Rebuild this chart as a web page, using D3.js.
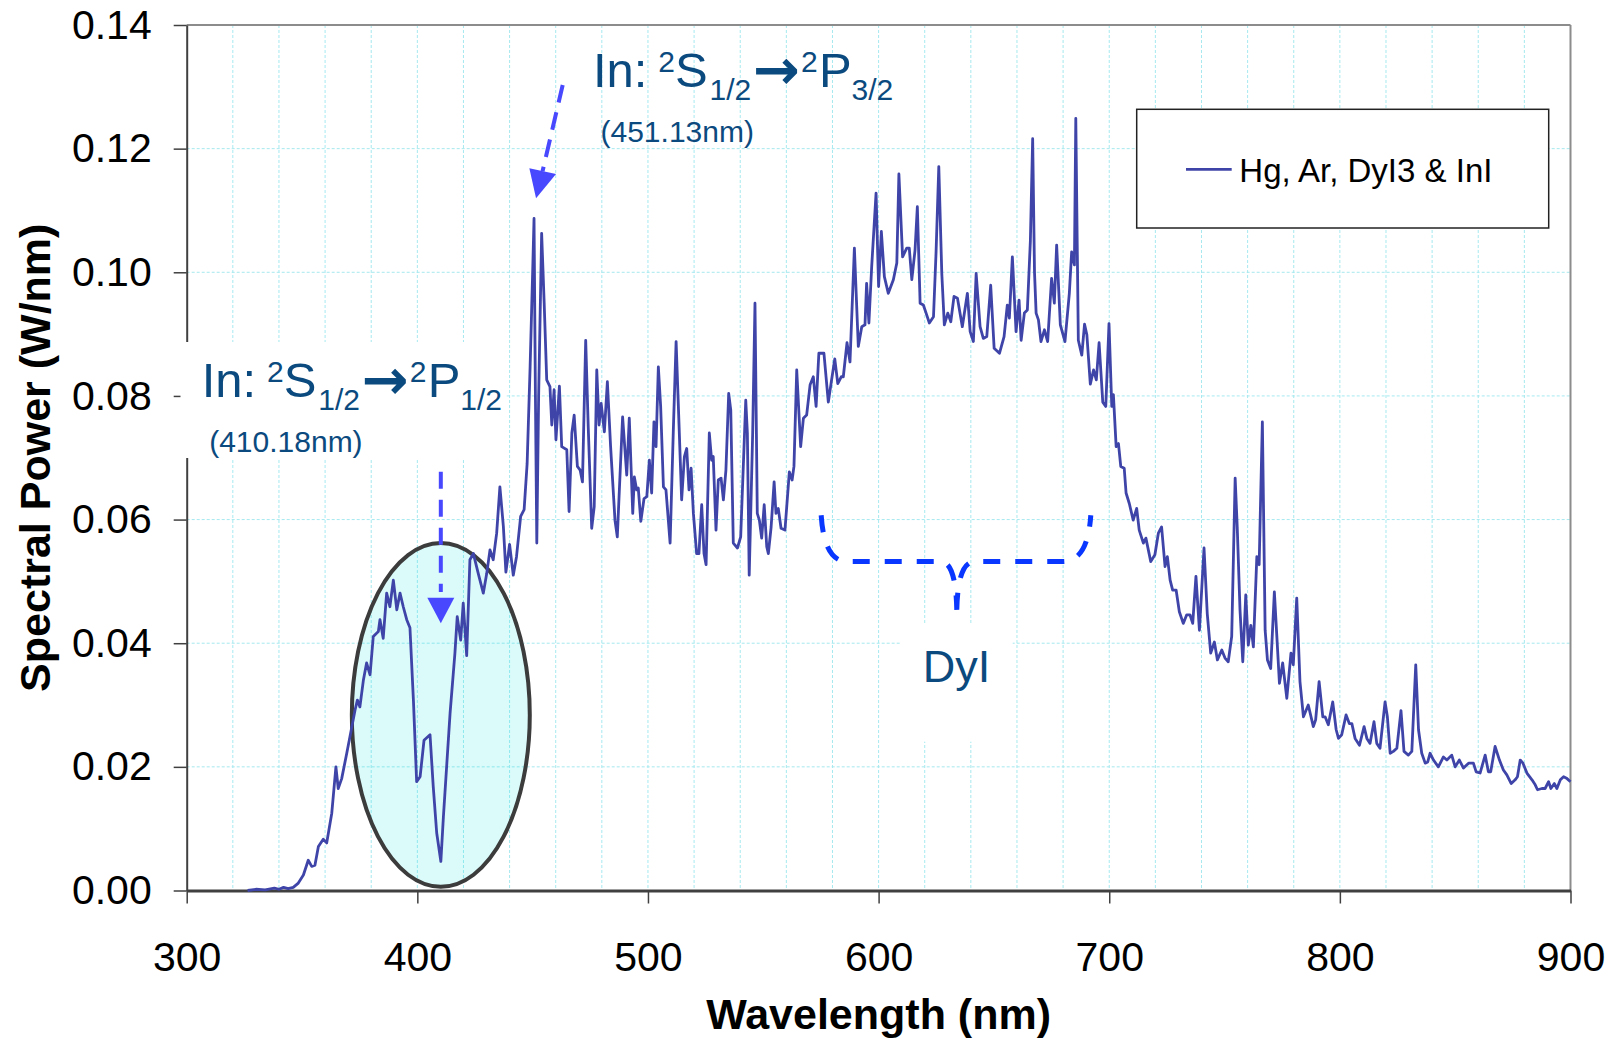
<!DOCTYPE html>
<html>
<head>
<meta charset="utf-8">
<script src="https://cdn.jsdelivr.net/npm/d3@7"></script>
<style>
  body { margin: 0; background: #fff; }
  svg { display: block; font-family: "Liberation Sans", Arial, sans-serif; }
</style>
</head>
<body>
<div class="chart__wrapper"></div>
<script>
// spectrum (nm, W/nm)
const wavelength = [
  326.4, 330, 334, 338, 340, 342, 344, 346.2, 348.4, 350.6, 352.7, 354.2, 355.6, 357.1, 359.2, 360.7,
  362.9, 364.7, 365.7, 367.2, 369.4, 370.8, 373.0, 374.0, 375.1, 376.6, 378.0, 379.5, 380.9, 383.1,
  383.8, 385.2, 386.7, 388.1, 389.6, 391.1, 392.5, 393.9, 395.4, 396.8, 398.3, 399.7, 401.2, 402.9,
  405.5, 406.9, 408.4, 410.2, 411.3, 414.2, 416.3, 417.3, 418.8, 419.9, 421.4, 422.8, 424.3, 426.4,
  428.6, 430.1, 431.5, 432.9, 434.4, 435.8, 437.3, 438.4, 440.0, 441.6, 443.0, 444.8, 446.3, 447.6,
  448.9, 450.0, 450.6, 451.2, 451.8, 452.6, 453.9, 455.0, 456.1, 457.5, 458.3, 459.3, 460.1, 461.6,
  462.6, 464.8, 465.8, 467.0, 468.0, 469.4, 470.6, 471.6, 473.0, 474.1, 475.6, 476.7, 477.8, 478.8,
  479.7, 481.1, 482.4, 483.8, 485.7, 486.7, 489.0, 490.8, 491.9, 493.4, 494.1, 495.1, 495.8, 496.9,
  498.3, 499.5, 500.6, 501.6, 502.6, 503.5, 504.5, 505.5, 506.7, 507.8, 509.6, 511.0, 512.2, 513.5,
  514.6, 515.8, 516.8, 517.8, 518.7, 519.7, 521.1, 522.1, 523.3, 524.3, 525.2, 526.6, 527.6, 528.3,
  529.5, 530.5, 531.7, 532.7, 533.8, 535.0, 535.9, 537.0, 538.8, 540.2, 542.4, 543.1, 543.9, 545.4,
  546.4, 547.4, 548.3, 549.3, 550.4, 551.5, 552.2, 553.4, 554.7, 555.5, 556.5, 557.7, 559.4, 561.3,
  562.5, 563.3, 564.5, 566.2, 567.4, 568.8, 570.3, 571.7, 572.9, 574.1, 575.3, 576.3, 578.2, 579.5,
  581.0, 582.3, 583.8, 584.7, 586.3, 587.6, 589.5, 591.2, 592.7, 594.1, 594.8, 595.8, 597.0, 598.9,
  600.0, 601.2, 602.5, 604.2, 606.4, 607.9, 608.8, 610.4, 612.2, 613.3, 614.4, 615.8, 616.8, 618.0,
  619.4, 620.6, 622.0, 623.8, 624.9, 626.1, 627.4, 628.5, 630.0, 631.3, 632.7, 634.2, 636.3, 638.5,
  639.7, 641.1, 642.3, 644.0, 645.4, 646.9, 648.6, 650.1, 652.4, 654.4, 655.8, 656.7, 658.0, 659.6,
  660.9, 661.8, 663.2, 664.5, 665.8, 666.8, 667.6, 668.3, 669.3, 670.4, 671.9, 673.3, 675.0, 676.2,
  677.2, 678.8, 680.8, 682.7, 683.7, 684.9, 685.5, 686.6, 688.1, 689.3, 690.3, 691.8, 693.2, 694.4,
  695.6, 697.2, 698.5, 699.9, 701.1, 701.8, 703.0, 704.0, 705.0, 706.5, 707.3, 708.7, 710.4, 711.9,
  713.0, 714.8, 715.9, 718.0, 719.8, 721.3, 722.7, 724.2, 725.2, 726.4, 727.5, 729.0, 730.4, 732.1,
  733.6, 735.0, 736.2, 737.6, 739.1, 741.1, 742.5, 744.0, 745.6, 746.9, 748.8, 750.2, 751.6, 753.1,
  754.6, 755.5, 756.7, 757.9, 759.2, 760.3, 761.4, 762.5, 764.0, 765.0, 766.4, 767.6, 768.6, 770.0,
  771.6, 772.6, 773.8, 775.2, 777.0, 778.8, 779.8, 781.3, 782.7, 784.2, 786.3, 788.5, 789.5, 791.0,
  792.6, 793.6, 795.0, 796.9, 798.4, 799.4, 800.8, 802.7, 804.1, 805.2, 806.6, 808.5, 810.5, 811.7,
  813.1, 814.8, 816.0, 817.4, 819.6, 820.6, 821.8, 823.2, 824.7, 826.5, 827.8, 829.7, 831.2, 832.9,
  834.1, 835.5, 837.0, 838.1, 839.1, 840.6, 842.7, 844.9, 846.4, 848.5, 850.0, 851.8, 853.6, 855.8,
  857.9, 859.1, 860.8, 863.0, 864.4, 865.4, 867.3, 869.2, 870.9, 872.4, 874.3, 876.0, 877.0, 878.2,
  879.4, 881.1, 883.3, 884.7, 885.7, 887.6, 889.0, 890.5, 891.5, 893.0, 894.1, 895.6, 897.0, 898.5,
  900.0,
];
const power = [
  0, 0.0002, 0.0001, 0.0004, 0.0002, 0.0005, 0.0003, 0.0005, 0.0012, 0.0025, 0.0049, 0.0039, 0.0041, 0.0071, 0.0083, 0.0077,
  0.0125, 0.0200, 0.0165, 0.0181, 0.0222, 0.0249, 0.0292, 0.0308, 0.0297, 0.0340, 0.0368, 0.0349, 0.0411, 0.0419,
  0.0438, 0.0408, 0.0481, 0.0459, 0.0502, 0.0454, 0.0481, 0.0459, 0.0438, 0.0425, 0.0308, 0.0176, 0.0184, 0.0243,
  0.0252, 0.0168, 0.0093, 0.0047, 0.0119, 0.0287, 0.0384, 0.0443, 0.0405, 0.0465, 0.0380, 0.0535, 0.0545, 0.0513,
  0.0481, 0.0513, 0.0551, 0.0535, 0.0578, 0.0653, 0.0589, 0.0515, 0.0560, 0.0510, 0.0540, 0.0605, 0.0616, 0.0690,
  0.0847, 0.1000, 0.1087, 0.0800, 0.0562, 0.0800, 0.1063, 0.0950, 0.0826, 0.0815, 0.0753, 0.0810, 0.0729, 0.0816,
  0.0718, 0.0713, 0.0613, 0.0740, 0.0769, 0.0686, 0.0680, 0.0661, 0.0890, 0.0750, 0.0586, 0.0621, 0.0842, 0.0753,
  0.0788, 0.0742, 0.0823, 0.0718, 0.0599, 0.0572, 0.0766, 0.0672, 0.0764, 0.0610, 0.0669, 0.0648, 0.0651, 0.0597,
  0.0634, 0.0637, 0.0696, 0.0643, 0.0758, 0.0718, 0.0847, 0.0783, 0.0653, 0.0648, 0.0562, 0.0745, 0.0888, 0.0750,
  0.0632, 0.0702, 0.0715, 0.0648, 0.0683, 0.0610, 0.0545, 0.0545, 0.0624, 0.0545, 0.0527, 0.0740, 0.0696, 0.0702,
  0.0583, 0.0664, 0.0667, 0.0632, 0.0680, 0.0804, 0.0777, 0.0562, 0.0554, 0.0572, 0.0793, 0.0740, 0.0510, 0.0740,
  0.0950, 0.0610, 0.0599, 0.0570, 0.0624, 0.0556, 0.0545, 0.0588, 0.0661, 0.0610, 0.0618, 0.0586, 0.0583, 0.0677,
  0.0664, 0.0686, 0.0842, 0.0718, 0.0764, 0.0769, 0.0818, 0.0831, 0.0783, 0.0869, 0.0869, 0.0869, 0.0790, 0.0823,
  0.0860, 0.0820, 0.0831, 0.0831, 0.0886, 0.0855, 0.1039, 0.0880, 0.0912, 0.0915, 0.0982, 0.0918, 0.1009, 0.1128,
  0.0977, 0.1066, 0.0993, 0.0966, 0.0988, 0.1015, 0.1159, 0.1025, 0.1039, 0.1039, 0.0988, 0.1036, 0.1106, 0.0950,
  0.0947, 0.0934, 0.0918, 0.0928, 0.1031, 0.1171, 0.0998, 0.0915, 0.0934, 0.0920, 0.0961, 0.0958, 0.0912, 0.0966,
  0.0904, 0.0888, 0.0998, 0.0912, 0.0893, 0.0896, 0.0979, 0.0877, 0.0869, 0.0896, 0.0947, 0.0926, 0.1025, 0.0904,
  0.0955, 0.0890, 0.0934, 0.0939, 0.1050, 0.1216, 0.1000, 0.0934, 0.0923, 0.0888, 0.0907, 0.0888, 0.0990, 0.0950,
  0.1044, 0.0915, 0.0888, 0.0966, 0.1033, 0.1012, 0.1249, 0.0890, 0.0866, 0.0916, 0.0899, 0.0819, 0.0842, 0.0826,
  0.0886, 0.0790, 0.0783, 0.0917, 0.0783, 0.0802, 0.0718, 0.0723, 0.0686, 0.0683, 0.0643, 0.0626, 0.0599, 0.0618,
  0.0583, 0.0562, 0.0570, 0.0532, 0.0543, 0.0578, 0.0588, 0.0524, 0.0540, 0.0502, 0.0486, 0.0486, 0.0451, 0.0432,
  0.0446, 0.0446, 0.0432, 0.0508, 0.0421, 0.0554, 0.0448, 0.0384, 0.0402, 0.0373, 0.0389, 0.0376, 0.0370, 0.0411,
  0.0667, 0.0588, 0.0454, 0.0370, 0.0478, 0.0397, 0.0429, 0.0394, 0.0540, 0.0527, 0.0758, 0.0421, 0.0373, 0.0359,
  0.0483, 0.0416, 0.0335, 0.0368, 0.0311, 0.0384, 0.0365, 0.0473, 0.0338, 0.0281, 0.0300, 0.0265, 0.0276, 0.0338,
  0.0281, 0.0281, 0.0268, 0.0305, 0.0260, 0.0246, 0.0252, 0.0284, 0.0270, 0.0270, 0.0246, 0.0235, 0.0265, 0.0246,
  0.0238, 0.0273, 0.0238, 0.0230, 0.0305, 0.0281, 0.0222, 0.0225, 0.0230, 0.0291, 0.0225, 0.0219, 0.0225, 0.0365,
  0.0260, 0.0222, 0.0206, 0.0208, 0.0222, 0.0211, 0.0200, 0.0216, 0.0211, 0.0219, 0.0200, 0.0211, 0.0198, 0.0206,
  0.0206, 0.0192, 0.0190, 0.0219, 0.0192, 0.0192, 0.0233, 0.0211, 0.0195, 0.0187, 0.0173, 0.0179, 0.0184, 0.0211,
  0.0206, 0.0190, 0.0179, 0.0171, 0.0163, 0.0165, 0.0165, 0.0176, 0.0165, 0.0173, 0.0165, 0.0179, 0.0184, 0.0181,
  0.0176,
];
const xTicks = [300, 400, 500, 600, 700, 800, 900];
const yTicks = [0, 0.02, 0.04, 0.06, 0.08, 0.1, 0.12, 0.14];
const seriesName = "Hg, Ar, DyI3 & InI";

const data = wavelength.map((w, i) => ({ w: w, p: power[i] }));

const svgWidth = 1614;
const svgHeight = 1041;
const margin = { top: 25, right: 43.5, bottom: 150.5, left: 186.7 };
const width = svgWidth - margin.left - margin.right;
const height = svgHeight - margin.top - margin.bottom;

const lineColor = "#3f45a8";
const noteColor = "#0b4a7e";
const arrowColor = "#4848ff";

const svg = d3
  .select(".chart__wrapper")
  .append("svg")
  .attr("width", svgWidth)
  .attr("height", svgHeight)
  .append("g")
  .attr("transform", `translate(${margin.left},${margin.top})`);

const x = d3.scaleLinear().domain([300, 900]).range([0, width]);
const y = d3.scaleLinear().domain([0, 0.14]).range([height, 0]);

// grid
const grid = svg.append("g").attr("class", "grid");
grid
  .selectAll(".vgrid")
  .data(d3.range(320, 900, 20))
  .enter()
  .append("line")
  .attr("x1", (d) => x(d))
  .attr("x2", (d) => x(d))
  .attr("y1", 0)
  .attr("y2", height);
grid
  .selectAll(".hgrid")
  .data(yTicks.filter((d) => d > 0 && d < 0.14))
  .enter()
  .append("line")
  .attr("x1", 0)
  .attr("x2", width)
  .attr("y1", (d) => y(d))
  .attr("y2", (d) => y(d));
grid
  .selectAll("line")
  .attr("stroke", "#a6e9ef")
  .attr("stroke-width", 1)
  .attr("stroke-dasharray", "3,2");

// top and right frame
svg.append("line").attr("x1", 0).attr("x2", width).attr("y1", 0).attr("y2", 0)
  .attr("stroke", "#8c8c8c").attr("stroke-width", 2);
svg.append("line").attr("x1", width).attr("x2", width).attr("y1", 0).attr("y2", height)
  .attr("stroke", "#8c8c8c").attr("stroke-width", 2);

// axes
const xAxis = svg
  .append("g")
  .attr("class", "x-axis")
  .attr("transform", `translate(0,${height})`)
  .call(d3.axisBottom(x).tickValues(xTicks).tickSize(13).tickSizeOuter(0).tickPadding(38));
xAxis.select(".domain").attr("stroke", "#404040").attr("stroke-width", 3);
xAxis.selectAll("line").attr("stroke", "#404040").attr("stroke-width", 1.5);
xAxis.selectAll("text").attr("font-size", 41).attr("fill", "#000").attr("font-family", null);

const yAxis = svg
  .append("g")
  .attr("class", "y-axis")
  .call(d3.axisLeft(y).tickValues(yTicks).tickFormat(d3.format(".2f")).tickSize(13).tickSizeOuter(0).tickPadding(22));
yAxis.select(".domain").attr("stroke", "#404040").attr("stroke-width", 2);
yAxis.selectAll("line").attr("stroke", "#404040").attr("stroke-width", 1.5);
yAxis.selectAll("text").attr("font-size", 41).attr("fill", "#000").attr("font-family", null);

// axis titles
svg.append("text")
  .attr("x", width / 2)
  .attr("y", height + 138.5)
  .attr("text-anchor", "middle")
  .attr("font-size", 43)
  .attr("font-weight", "bold")
  .text("Wavelength (nm)");
svg.append("text")
  .attr("transform", `translate(${50 - margin.left},${height / 2}) rotate(-90)`)
  .attr("text-anchor", "middle")
  .attr("font-size", 43)
  .attr("font-weight", "bold")
  .text("Spectral Power (W/nm)");

// highlight ellipse around the 410 nm absorption
svg.append("ellipse")
  .attr("cx", x(410.18))
  .attr("cy", y(0.0284))
  .attr("rx", x(410.18) - x(371.6))
  .attr("ry", y(0) - y(0.0278))
  .attr("fill", "#00e0e0")
  .attr("fill-opacity", 0.14)
  .attr("stroke", "#3c3c3c")
  .attr("stroke-width", 4);

// spectrum
const line = d3.line().x((d) => x(d.w)).y((d) => y(d.p));
svg.append("path")
  .datum(data)
  .attr("fill", "none")
  .attr("stroke", lineColor)
  .attr("stroke-width", 2.8)
  .attr("stroke-linejoin", "round")
  .attr("d", line);

// legend
const legend = svg.append("g").attr("transform", `translate(${1136.7 - margin.left},${109.3 - margin.top})`);
legend.append("rect").attr("width", 412).attr("height", 118.7)
  .attr("fill", "#fff").attr("stroke", "#222").attr("stroke-width", 1.5);
legend.append("line").attr("x1", 49.3).attr("x2", 95).attr("y1", 60).attr("y2", 60)
  .attr("stroke", lineColor).attr("stroke-width", 2.8);
legend.append("text").attr("x", 102.6).attr("y", 72.4).attr("font-size", 33).text(seriesName);

// transition label: In: 2S1/2 -> 2P(j)
function transitionLabel(x0, yBase, jUpper, wl) {
  const g = svg.append("g").attr("fill", noteColor);
  const t = g.append("text").attr("y", yBase);
  t.append("tspan").attr("x", x0).attr("font-size", 49).text("In: ");
  t.append("tspan").attr("x", x0 + 65.3).attr("y", yBase - 15).attr("font-size", 30).text("2");
  t.append("tspan").attr("x", x0 + 82).attr("y", yBase).attr("font-size", 49).text("S");
  t.append("tspan").attr("x", x0 + 116.5).attr("y", yBase + 13).attr("font-size", 30).text("1/2");
  t.append("tspan").attr("x", x0 + 160).attr("y", yBase + 2).attr("font-size", 56)
    .attr("font-family", "DejaVu Sans").attr("font-weight", "bold").text("\u2192");
  t.append("tspan").attr("x", x0 + 208).attr("y", yBase - 15).attr("font-size", 30).text("2");
  t.append("tspan").attr("x", x0 + 226).attr("y", yBase).attr("font-size", 49).text("P");
  t.append("tspan").attr("x", x0 + 258.5).attr("y", yBase + 13).attr("font-size", 30).text(jUpper);
  g.append("text").attr("x", x0 + 7.5).attr("y", yBase + 55).attr("font-size", 30).text(`(${wl}nm)`);
}

// first note sits on a white box that hides the axis and grid
svg.append("rect")
  .attr("x", 180.5 - margin.left)
  .attr("y", 342 - margin.top)
  .attr("width", 325)
  .attr("height", 116)
  .attr("fill", "#fff");
transitionLabel(201.7 - margin.left, 396.7 - margin.top, "1/2", "410.18");
transitionLabel(593 - margin.left, 87 - margin.top, "3/2", "451.13");

// dashed arrows
svg.append("line")
  .attr("x1", x(410.18)).attr("x2", x(410.18))
  .attr("y1", 471.7 - margin.top).attr("y2", 592 - margin.top)
  .attr("stroke", arrowColor).attr("stroke-width", 4).attr("stroke-dasharray", "17,11");
svg.append("path")
  .attr("d", `M${x(410.18) - 13.5},${597.7 - margin.top} L${x(410.18) + 13.5},${597.7 - margin.top} L${x(410.18)},${623.3 - margin.top} Z`)
  .attr("fill", arrowColor);

const tip2 = [x(451.13) + 0.8, 198.3 - margin.top];
svg.append("line")
  .attr("x1", 562.7 - margin.left).attr("y1", 85 - margin.top)
  .attr("x2", tip2[0] + 6.5).attr("y2", tip2[1] - 27)
  .attr("stroke", arrowColor).attr("stroke-width", 4).attr("stroke-dasharray", "18,10");
svg.append("path")
  .attr("d", `M${tip2[0] - 6.7},${tip2[1] - 30} L${tip2[0] + 20},${tip2[1] - 24.3} L${tip2[0]},${tip2[1]} Z`)
  .attr("fill", arrowColor);

// DyI brace
const bx0 = x(575.1), bx1 = x(692), bxm = x(633.9);
const by = y(0.0532), byEnd = y(0.0607), byTip = y(0.0454);
svg.append("path")
  .attr("d", `M${bx0},${byEnd} Q${bx0 + 3},${by} ${bx0 + 26},${by} L${bxm - 16},${by} Q${bxm - 1},${by} ${bxm},${byTip}`
    + ` M${bxm},${byTip} Q${bxm + 1},${by} ${bxm + 18},${by} L${bx1 - 28},${by} Q${bx1 - 3},${by} ${bx1},${byEnd}`)
  .attr("fill", "none")
  .attr("stroke", "#0a37ff")
  .attr("stroke-width", 5)
  .attr("stroke-dasharray", "17,15");

svg.append("rect")
  .attr("x", 900.7 - margin.left)
  .attr("y", 624.3 - margin.top)
  .attr("width", 112)
  .attr("height", 117.4)
  .attr("fill", "#fff");
svg.append("text")
  .attr("x", 922.7 - margin.left)
  .attr("y", 681.7 - margin.top)
  .attr("font-size", 45)
  .attr("fill", noteColor)
  .text("DyI");
</script>
</body>
</html>
